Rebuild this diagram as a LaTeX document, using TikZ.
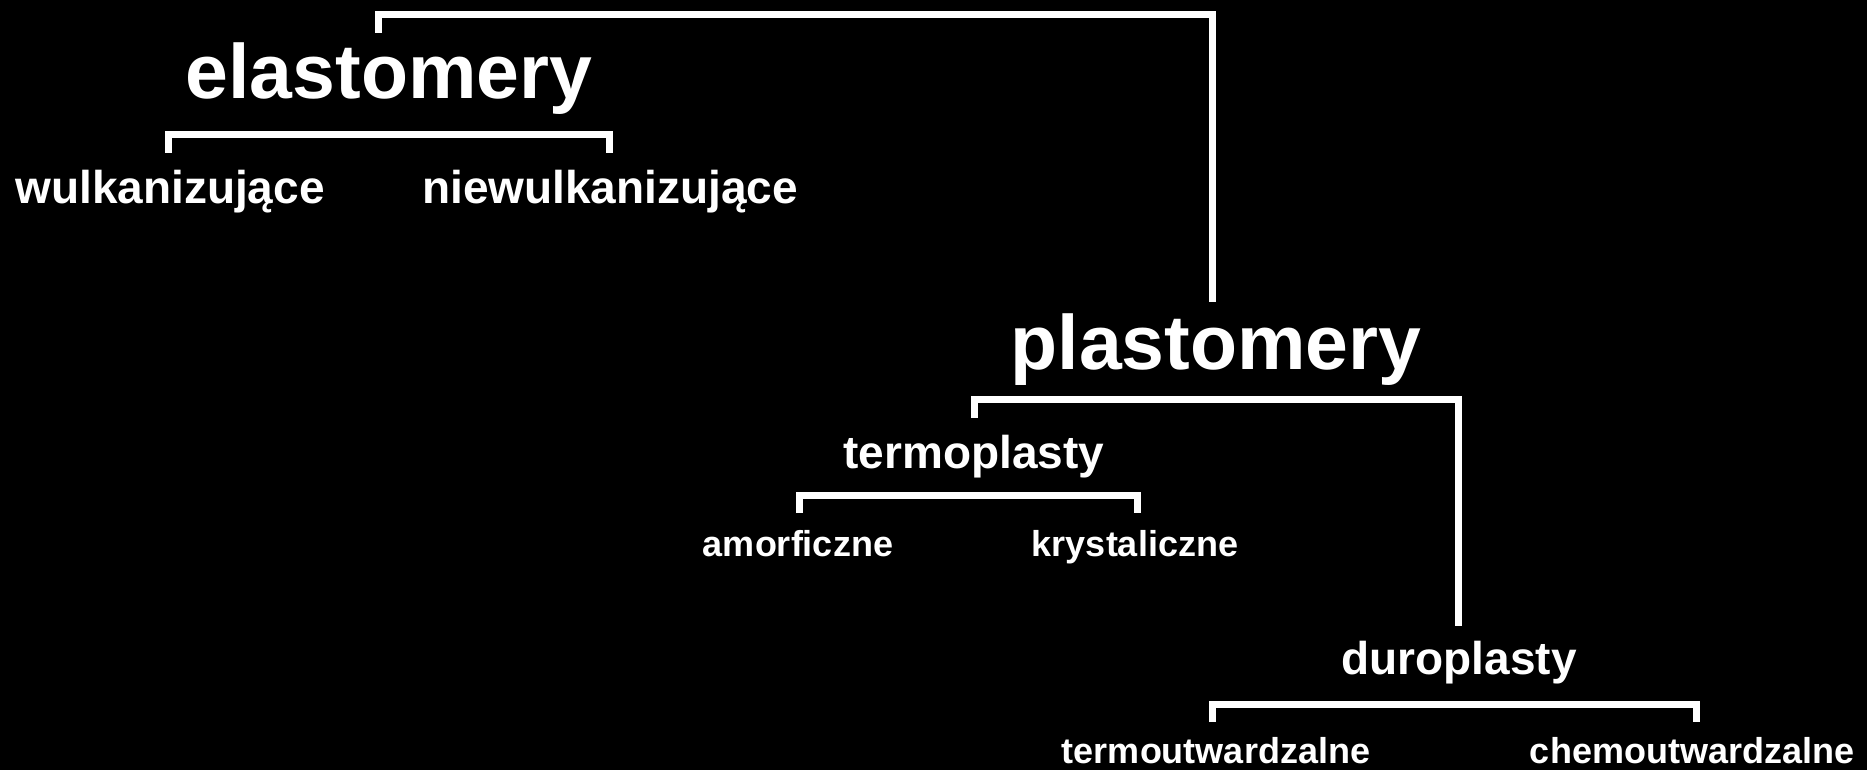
\documentclass[tikz,border=0pt]{standalone}
\usepackage{fontspec}
\setmainfont{Liberation Sans}
\usepackage{tikz}
\usetikzlibrary{positioning,calc}
\usepackage{xcolor}
\definecolor{PolyBlack}{HTML}{000000}
\definecolor{PolyWhite}{HTML}{ffffff}
\tikzset{
    % Text-only labels, sitting on their baseline
    group main/.style={
        anchor=base,
        inner sep=0pt,
        text=PolyWhite,
        font=\bfseries\fontsize{77}{80}\selectfont
    },
    group sub/.style={
        group main,
        font=\bfseries\fontsize{46}{50}\selectfont
    },
    group leaf/.style={
        group main,
        font=\bfseries\fontsize{36}{40}\selectfont
    },
    bracket/.style={
        draw=PolyWhite,
        line width=7pt,
        line join=miter
    }
}

\begin{document}
\begin{tikzpicture}[x=1pt, y=-1pt]
        \fill[PolyBlack] (0,0) rectangle (1867,770);
        \useasboundingbox (0,0) rectangle (1867,770);

        % Main groups
        \node[group main] (elast) at (389,99) {elastomery};
        \node[group main] (plast) at (1216,369) {plastomery};

        % Elastomers
        \node[group sub] (wulk) at (170,204) {wulkanizujące};
        \node[group sub] (niewulk) at (610,204) {niewulkanizujące};

        % Plastomers
        \node[group sub] (termo) at (974,468) {termoplasty};
        \node[group sub] (duro) at (1459,674) {duroplasty};
        \node[group leaf] (amorf) at (798,556) {amorficzne};
        \node[group leaf] (kryst) at (1135,556) {krystaliczne};
        \node[group leaf] (termout) at (1216,763) {termoutwardzalne};
        \node[group leaf] (chemout) at (1692,763) {chemoutwardzalne};

        % Bracket ends
        \coordinate (elast_top) at (378,33);
        \coordinate (plast_top) at (1212,302);
        \coordinate (wulk_top) at (168.5,153);
        \coordinate (niewulk_top) at (609.5,153);
        \coordinate (termo_top) at (974,418);
        \coordinate (duro_top) at (1458,626);
        \coordinate (amorf_top) at (799,513);
        \coordinate (kryst_top) at (1137,513);
        \coordinate (termout_top) at (1212,722);
        \coordinate (chemout_top) at (1696,722);

        % Brackets
        \draw[bracket] (elast_top) -- ++(0,-18.5) -| (plast_top);
        \draw[bracket] (wulk_top) -- ++(0,-18.5) -| (niewulk_top);
        \draw[bracket] (termo_top) -- ++(0,-18.5) -| (duro_top);
        \draw[bracket] (amorf_top) -- ++(0,-17.5) -| (kryst_top);
        \draw[bracket] (termout_top) -- ++(0,-18) -| (chemout_top);
    \end{tikzpicture}
\end{document}
